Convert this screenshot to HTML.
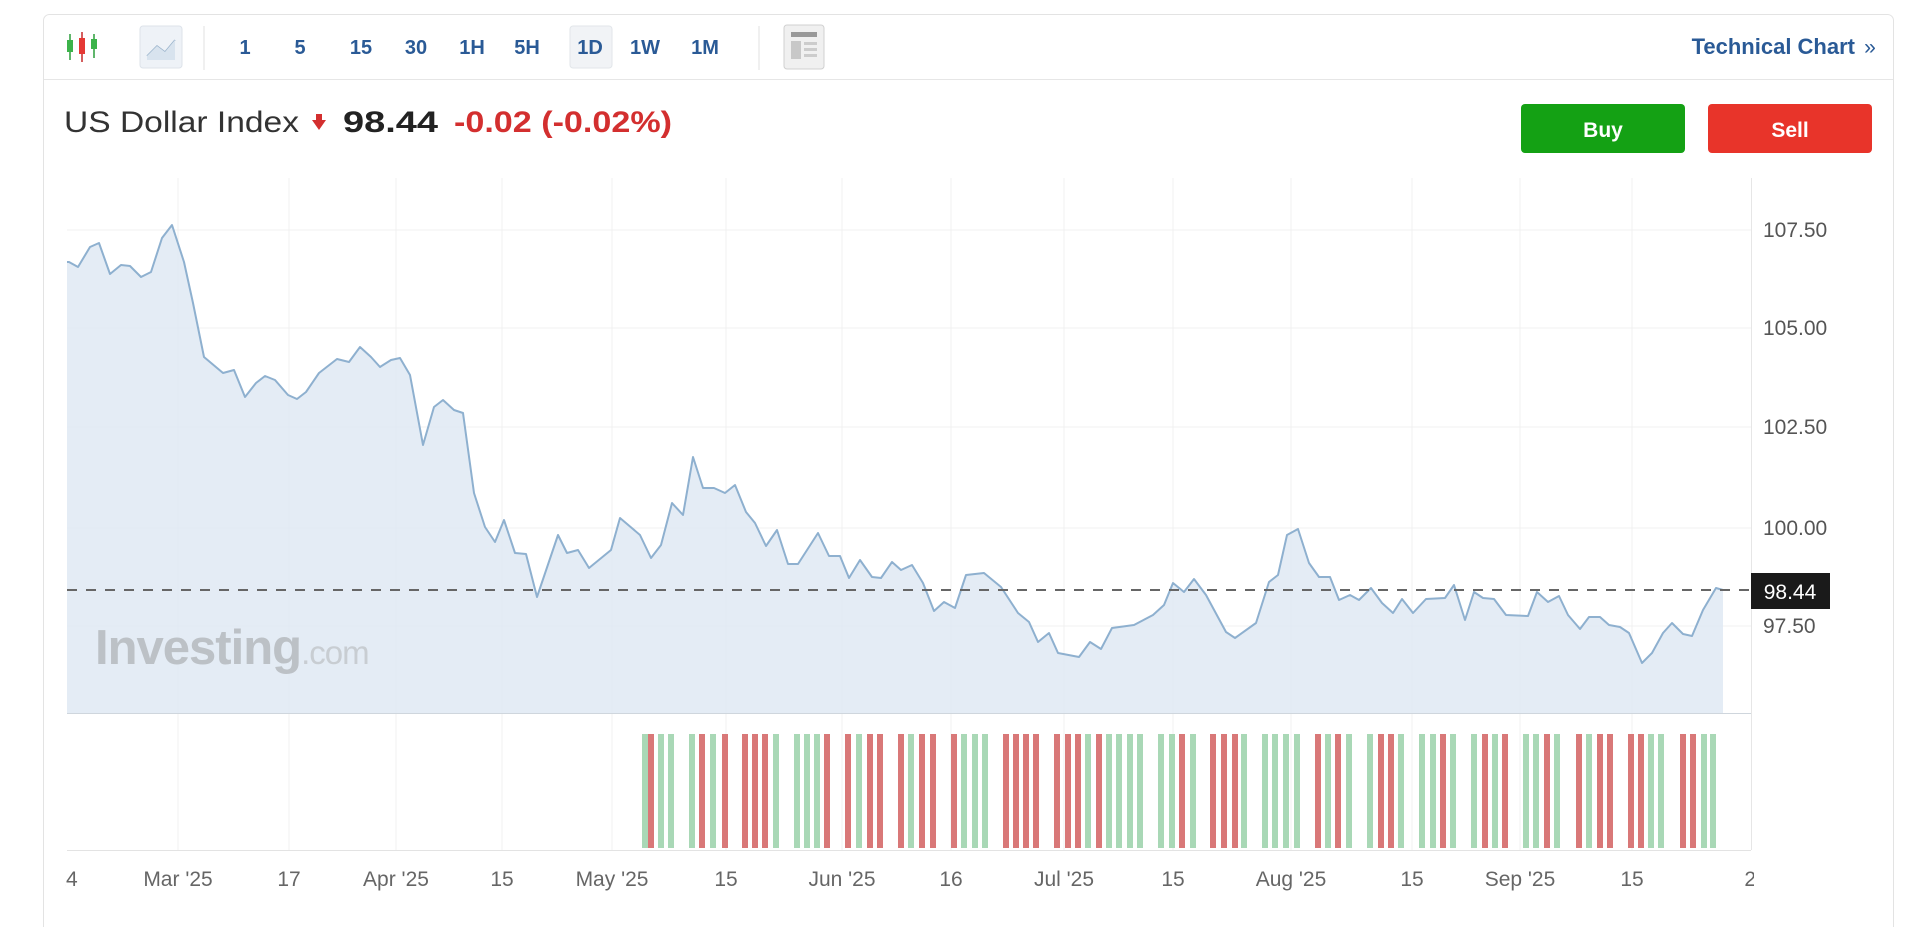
<!DOCTYPE html>
<html><head><meta charset="utf-8"><style>
html,body{margin:0;padding:0;background:#fff;width:1920px;height:927px;overflow:hidden;font-family:"Liberation Sans",Arial,sans-serif}
</style></head><body>
<svg width="1920" height="927" viewBox="0 0 1920 927" xmlns="http://www.w3.org/2000/svg" font-family="Liberation Sans, Arial, sans-serif">
<rect x="43.5" y="14.5" width="1850" height="940" rx="6" fill="#fff" stroke="#e3e3e3"/>
<line x1="44" y1="79.5" x2="1893" y2="79.5" stroke="#e6e6e6"/>
<g>
 <line x1="70" y1="34" x2="70" y2="60" stroke="#2a9d3a" stroke-width="1.5"/><rect x="67" y="40" width="6" height="12" fill="#3cb34a"/>
 <line x1="82" y1="32" x2="82" y2="62" stroke="#c62828" stroke-width="1.5"/><rect x="79" y="38" width="6" height="16" fill="#e53935"/>
 <line x1="94" y1="34" x2="94" y2="58" stroke="#2a9d3a" stroke-width="1.5"/><rect x="91" y="39" width="6" height="10" fill="#3cb34a"/>
 <rect x="140" y="26" width="42" height="42" rx="3" fill="#eef2f7" stroke="#dde3ea"/>
 <polyline points="147,56 157,46 165,52 175,40" fill="none" stroke="#9bb4cc" stroke-width="1.5"/>
 <polygon points="147,56 157,46 165,52 175,40 175,60 147,60" fill="#d8e3ee"/>
 <line x1="204" y1="26" x2="204" y2="70" stroke="#e2e2e2"/>
 <rect x="570" y="26" width="42" height="42" rx="3" fill="#f1f3f6" stroke="#e2e6ea"/>
 <g fill="#2a5a96" font-size="20" font-weight="bold" text-anchor="middle">
  <text x="245" y="54">1</text><text x="300" y="54">5</text><text x="361" y="54">15</text><text x="416" y="54">30</text>
  <text x="472" y="54">1H</text><text x="527" y="54">5H</text><text x="590" y="54">1D</text><text x="645" y="54">1W</text><text x="705" y="54">1M</text>
 </g>
 <line x1="759" y1="26" x2="759" y2="70" stroke="#e2e2e2"/>
 <rect x="784" y="25" width="40" height="44" rx="3" fill="#f0f0f0" stroke="#d0d0d0"/>
 <rect x="791" y="32" width="26" height="5" fill="#999"/>
 <rect x="791" y="41" width="10" height="18" fill="#c8c8c8"/>
 <rect x="804" y="42" width="13" height="3" fill="#ccc"/><rect x="804" y="48" width="13" height="3" fill="#ccc"/><rect x="804" y="54" width="13" height="3" fill="#ccc"/>
 <text x="1855" y="54" fill="#2a5a96" font-size="22" font-weight="bold" text-anchor="end">Technical Chart</text>
 <text x="1870" y="54" fill="#2a5a96" font-size="21" text-anchor="middle">»</text>
</g>
<text x="64" y="132" font-size="30" fill="#333" textLength="235" lengthAdjust="spacingAndGlyphs">US Dollar Index</text>
<polygon points="316,114 322,114 322,120 326,120 319,130 312,120 316,120" fill="#d32f2f"/>
<text x="343" y="132" font-size="30" font-weight="bold" fill="#222" textLength="95" lengthAdjust="spacingAndGlyphs">98.44</text>
<text x="454" y="132" font-size="30" font-weight="bold" fill="#d32f2f" textLength="218" lengthAdjust="spacingAndGlyphs">-0.02 (-0.02%)</text>
<rect x="1521" y="104" width="164" height="49" rx="4" fill="#14a114"/>
<text x="1603" y="137" font-size="21" font-weight="bold" fill="#fff" text-anchor="middle">Buy</text>
<rect x="1708" y="104" width="164" height="49" rx="4" fill="#e8342a"/>
<text x="1790" y="137" font-size="21" font-weight="bold" fill="#fff" text-anchor="middle">Sell</text>
<g stroke="#f0f0f0">
 <line x1="67" y1="230" x2="1751" y2="230"/><line x1="67" y1="328" x2="1751" y2="328"/><line x1="67" y1="427" x2="1751" y2="427"/><line x1="67" y1="528" x2="1751" y2="528"/><line x1="67" y1="626" x2="1751" y2="626"/>
 <line x1="178" y1="178" x2="178" y2="850"/><line x1="289" y1="178" x2="289" y2="850"/><line x1="396" y1="178" x2="396" y2="850"/><line x1="502" y1="178" x2="502" y2="850"/><line x1="612" y1="178" x2="612" y2="850"/><line x1="726" y1="178" x2="726" y2="850"/><line x1="842" y1="178" x2="842" y2="850"/><line x1="951" y1="178" x2="951" y2="850"/><line x1="1064" y1="178" x2="1064" y2="850"/><line x1="1173" y1="178" x2="1173" y2="850"/><line x1="1291" y1="178" x2="1291" y2="850"/><line x1="1412" y1="178" x2="1412" y2="850"/><line x1="1520" y1="178" x2="1520" y2="850"/><line x1="1632" y1="178" x2="1632" y2="850"/>
</g>
<polygon fill="#dfe9f3" fill-opacity="0.85" points="67,713 67,262 69,262 78,267 90,247 99,243 110,274 121,265 130,266 141,277 151,272 162,238 172,225 184,262 193,303 204,357 223,373 234,370 245,397 256,383 265,376 275,380 288,395 297,399 306,392 319,373 337,359 349,362 360,347 371,357 380,367 391,360 400,358 410,375 423,445 434,407 443,400 454,410 463,413 474,493 485,527 495,542 504,520 515,553 526,554 537,597 558,535 567,553 578,550 589,568 611,550 620,518 640,535 651,558 661,545 672,503 683,515 693,457 703,488 714,488 725,493 735,485 746,512 755,523 766,546 777,530 788,564 798,564 818,533 829,556 840,556 849,578 860,560 872,577 881,578 892,562 901,570 912,565 923,583 934,611 944,602 955,608 966,575 984,573 1001,587 1018,613 1029,622 1038,642 1049,633 1058,653 1079,657 1090,642 1101,649 1112,628 1134,625 1153,615 1164,605 1173,583 1184,592 1194,579 1206,595 1226,632 1235,638 1256,623 1269,582 1278,575 1287,535 1298,529 1309,563 1319,577 1330,577 1339,600 1350,595 1359,600 1371,588 1382,603 1393,613 1402,599 1413,613 1426,599 1445,598 1454,585 1465,620 1474,592 1483,598 1494,599 1506,615 1528,616 1537,592 1548,602 1559,596 1568,615 1580,629 1589,617 1600,617 1609,625 1620,627 1629,633 1642,663 1652,653 1663,633 1672,623 1683,634 1692,636 1703,610 1716,588 1723,590 1723,713"/>
<text x="95" y="664" font-size="49" font-weight="bold" fill="#bcc1c6" letter-spacing="-1">Investing<tspan font-weight="normal" font-size="33" fill="#c8cdd2">.com</tspan></text>
<polyline fill="none" stroke="#8eb0cf" stroke-width="2" stroke-linejoin="round" points="67,262 69,262 78,267 90,247 99,243 110,274 121,265 130,266 141,277 151,272 162,238 172,225 184,262 193,303 204,357 223,373 234,370 245,397 256,383 265,376 275,380 288,395 297,399 306,392 319,373 337,359 349,362 360,347 371,357 380,367 391,360 400,358 410,375 423,445 434,407 443,400 454,410 463,413 474,493 485,527 495,542 504,520 515,553 526,554 537,597 558,535 567,553 578,550 589,568 611,550 620,518 640,535 651,558 661,545 672,503 683,515 693,457 703,488 714,488 725,493 735,485 746,512 755,523 766,546 777,530 788,564 798,564 818,533 829,556 840,556 849,578 860,560 872,577 881,578 892,562 901,570 912,565 923,583 934,611 944,602 955,608 966,575 984,573 1001,587 1018,613 1029,622 1038,642 1049,633 1058,653 1079,657 1090,642 1101,649 1112,628 1134,625 1153,615 1164,605 1173,583 1184,592 1194,579 1206,595 1226,632 1235,638 1256,623 1269,582 1278,575 1287,535 1298,529 1309,563 1319,577 1330,577 1339,600 1350,595 1359,600 1371,588 1382,603 1393,613 1402,599 1413,613 1426,599 1445,598 1454,585 1465,620 1474,592 1483,598 1494,599 1506,615 1528,616 1537,592 1548,602 1559,596 1568,615 1580,629 1589,617 1600,617 1609,625 1620,627 1629,633 1642,663 1652,653 1663,633 1672,623 1683,634 1692,636 1703,610 1716,588 1723,590"/>
<line x1="67" y1="713.5" x2="1751" y2="713.5" stroke="#cfd6dd"/>
<line x1="67" y1="850.5" x2="1751" y2="850.5" stroke="#e3e3e3"/>
<line x1="1751.5" y1="178" x2="1751.5" y2="850" stroke="#e6e6e6"/>
<line x1="67" y1="590" x2="1751" y2="590" stroke="#666" stroke-width="2" stroke-dasharray="10,9"/>
<g font-size="21" fill="#555">
 <text x="1763" y="237">107.50</text><text x="1763" y="335">105.00</text><text x="1763" y="434">102.50</text><text x="1763" y="535">100.00</text><text x="1763" y="633">97.50</text>
</g>
<rect x="1751" y="573" width="79" height="36" fill="#1a1a1a"/>
<text x="1790" y="599" font-size="21" fill="#fff" text-anchor="middle">98.44</text>
<g font-size="21" fill="#666" text-anchor="middle">
 <text x="66" y="886">14</text><text x="178" y="886">Mar '25</text><text x="289" y="886">17</text><text x="396" y="886">Apr '25</text><text x="502" y="886">15</text><text x="612" y="886">May '25</text><text x="726" y="886">15</text><text x="842" y="886">Jun '25</text><text x="951" y="886">16</text><text x="1064" y="886">Jul '25</text><text x="1173" y="886">15</text><text x="1291" y="886">Aug '25</text><text x="1412" y="886">15</text><text x="1520" y="886">Sep '25</text><text x="1632" y="886">15</text><text x="1756" y="886">28</text>
</g>
<rect x="44" y="860" width="21" height="40" fill="#fff"/>
<rect x="1754" y="860" width="40" height="40" fill="#fff"/>
<g>
<rect x="642" y="734" width="6" height="114" fill="#a9d8b6"/><rect x="648" y="734" width="6" height="114" fill="#d97878"/><rect x="658" y="734" width="6" height="114" fill="#a9d8b6"/><rect x="668" y="734" width="6" height="114" fill="#a9d8b6"/><rect x="689" y="734" width="6" height="114" fill="#a9d8b6"/><rect x="699" y="734" width="6" height="114" fill="#d97878"/><rect x="710" y="734" width="6" height="114" fill="#a9d8b6"/><rect x="722" y="734" width="6" height="114" fill="#d97878"/><rect x="742" y="734" width="6" height="114" fill="#d97878"/><rect x="752" y="734" width="6" height="114" fill="#d97878"/><rect x="762" y="734" width="6" height="114" fill="#d97878"/><rect x="773" y="734" width="6" height="114" fill="#a9d8b6"/><rect x="794" y="734" width="6" height="114" fill="#a9d8b6"/><rect x="804" y="734" width="6" height="114" fill="#a9d8b6"/><rect x="814" y="734" width="6" height="114" fill="#a9d8b6"/><rect x="824" y="734" width="6" height="114" fill="#d97878"/><rect x="845" y="734" width="6" height="114" fill="#d97878"/><rect x="856" y="734" width="6" height="114" fill="#a9d8b6"/><rect x="867" y="734" width="6" height="114" fill="#d97878"/><rect x="877" y="734" width="6" height="114" fill="#d97878"/><rect x="898" y="734" width="6" height="114" fill="#d97878"/><rect x="908" y="734" width="6" height="114" fill="#a9d8b6"/><rect x="919" y="734" width="6" height="114" fill="#d97878"/><rect x="930" y="734" width="6" height="114" fill="#d97878"/><rect x="951" y="734" width="6" height="114" fill="#d97878"/><rect x="961" y="734" width="6" height="114" fill="#a9d8b6"/><rect x="972" y="734" width="6" height="114" fill="#a9d8b6"/><rect x="982" y="734" width="6" height="114" fill="#a9d8b6"/><rect x="1003" y="734" width="6" height="114" fill="#d97878"/><rect x="1013" y="734" width="6" height="114" fill="#d97878"/><rect x="1023" y="734" width="6" height="114" fill="#d97878"/><rect x="1033" y="734" width="6" height="114" fill="#d97878"/><rect x="1054" y="734" width="6" height="114" fill="#d97878"/><rect x="1065" y="734" width="6" height="114" fill="#d97878"/><rect x="1075" y="734" width="6" height="114" fill="#d97878"/><rect x="1085" y="734" width="6" height="114" fill="#a9d8b6"/><rect x="1096" y="734" width="6" height="114" fill="#d97878"/><rect x="1106" y="734" width="6" height="114" fill="#a9d8b6"/><rect x="1116" y="734" width="6" height="114" fill="#a9d8b6"/><rect x="1127" y="734" width="6" height="114" fill="#a9d8b6"/><rect x="1137" y="734" width="6" height="114" fill="#a9d8b6"/><rect x="1158" y="734" width="6" height="114" fill="#a9d8b6"/><rect x="1169" y="734" width="6" height="114" fill="#a9d8b6"/><rect x="1179" y="734" width="6" height="114" fill="#d97878"/><rect x="1190" y="734" width="6" height="114" fill="#a9d8b6"/><rect x="1210" y="734" width="6" height="114" fill="#d97878"/><rect x="1221" y="734" width="6" height="114" fill="#d97878"/><rect x="1232" y="734" width="6" height="114" fill="#d97878"/><rect x="1241" y="734" width="6" height="114" fill="#a9d8b6"/><rect x="1262" y="734" width="6" height="114" fill="#a9d8b6"/><rect x="1272" y="734" width="6" height="114" fill="#a9d8b6"/><rect x="1283" y="734" width="6" height="114" fill="#a9d8b6"/><rect x="1294" y="734" width="6" height="114" fill="#a9d8b6"/><rect x="1315" y="734" width="6" height="114" fill="#d97878"/><rect x="1325" y="734" width="6" height="114" fill="#a9d8b6"/><rect x="1335" y="734" width="6" height="114" fill="#d97878"/><rect x="1346" y="734" width="6" height="114" fill="#a9d8b6"/><rect x="1367" y="734" width="6" height="114" fill="#a9d8b6"/><rect x="1378" y="734" width="6" height="114" fill="#d97878"/><rect x="1388" y="734" width="6" height="114" fill="#d97878"/><rect x="1398" y="734" width="6" height="114" fill="#a9d8b6"/><rect x="1419" y="734" width="6" height="114" fill="#a9d8b6"/><rect x="1430" y="734" width="6" height="114" fill="#a9d8b6"/><rect x="1440" y="734" width="6" height="114" fill="#d97878"/><rect x="1450" y="734" width="6" height="114" fill="#a9d8b6"/><rect x="1471" y="734" width="6" height="114" fill="#a9d8b6"/><rect x="1482" y="734" width="6" height="114" fill="#d97878"/><rect x="1492" y="734" width="6" height="114" fill="#a9d8b6"/><rect x="1502" y="734" width="6" height="114" fill="#d97878"/><rect x="1523" y="734" width="6" height="114" fill="#a9d8b6"/><rect x="1533" y="734" width="6" height="114" fill="#a9d8b6"/><rect x="1544" y="734" width="6" height="114" fill="#d97878"/><rect x="1554" y="734" width="6" height="114" fill="#a9d8b6"/><rect x="1576" y="734" width="6" height="114" fill="#d97878"/><rect x="1586" y="734" width="6" height="114" fill="#a9d8b6"/><rect x="1597" y="734" width="6" height="114" fill="#d97878"/><rect x="1607" y="734" width="6" height="114" fill="#d97878"/><rect x="1628" y="734" width="6" height="114" fill="#d97878"/><rect x="1638" y="734" width="6" height="114" fill="#d97878"/><rect x="1648" y="734" width="6" height="114" fill="#a9d8b6"/><rect x="1658" y="734" width="6" height="114" fill="#a9d8b6"/><rect x="1680" y="734" width="6" height="114" fill="#d97878"/><rect x="1690" y="734" width="6" height="114" fill="#d97878"/><rect x="1701" y="734" width="6" height="114" fill="#a9d8b6"/><rect x="1710" y="734" width="6" height="114" fill="#a9d8b6"/>
</g>
</svg>
</body></html>
